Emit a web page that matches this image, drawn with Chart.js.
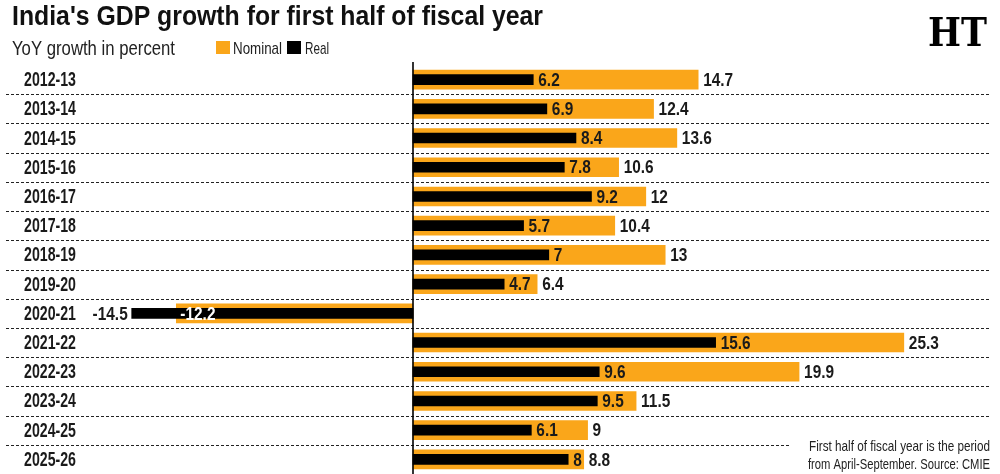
<!DOCTYPE html>
<html>
<head>
<meta charset="utf-8">
<script src="https://cdn.jsdelivr.net/npm/chart.js@4/dist/chart.umd.min.js"></script>
<style>
  html, body { margin: 0; padding: 0; background: #fff; }
  #wrap { position: relative; width: 1000px; height: 474px; }
  canvas { display: block; }
</style>
</head>
<body>
<div id="wrap"><canvas id="c" width="1000" height="474"></canvas></div>
<script>
// ---- data ----
const categories = ['2012-13','2013-14','2014-15','2015-16','2016-17','2017-18','2018-19','2019-20','2020-21','2021-22','2022-23','2023-24','2024-25','2025-26'];
const nominalValues = [14.7, 12.4, 13.6, 10.6, 12, 10.4, 13, 6.4, -12.2, 25.3, 19.9, 11.5, 9, 8.8];
const realValues = [6.2, 6.9, 8.4, 7.8, 9.2, 5.7, 7, 4.7, -14.5, 15.6, 9.6, 9.5, 6.1, 8];
const seriesNames = ['Nominal', 'Real'];
const titleText = "India's GDP growth for first half of fiscal year";
const subtitleText = 'YoY growth in percent';
const footnoteLines = ['First half of fiscal year is the period', 'from April-September. Source: CMIE'];

const ORANGE = '#FAA61A';
const BLACK = '#000000';
const INK = '#1a1a1a';
const FONT = '"Liberation Sans", Arial, sans-serif';

function drawText(ctx, s, x, y, o) {
  ctx.save();
  ctx.font = (o.weight || 'normal') + ' ' + o.size + 'px ' + (o.family || FONT);
  ctx.fillStyle = o.color || INK;
  ctx.textBaseline = o.baseline || 'alphabetic';
  ctx.textAlign = o.align || 'left';
  let sx = o.sx || 1;
  if (o.width) sx = o.width / ctx.measureText(s).width;
  ctx.translate(x, y);
  ctx.scale(sx, 1);
  ctx.fillText(s, 0, 0);
  ctx.restore();
}
function scaleFor(ctx, sample, size, weight, target) {
  ctx.save();
  ctx.font = weight + ' ' + size + 'px ' + FONT;
  const w = ctx.measureText(sample).width;
  ctx.restore();
  return target / w;
}

const decor = {
  id: 'decor',
  beforeDatasetsDraw(chart) {
    const ctx = chart.ctx;
    const y = chart.scales.y;
    ctx.save();
    ctx.strokeStyle = '#222';
    ctx.lineWidth = 1.2;
    ctx.setLineDash([3, 2]);
    for (let i = 0; i < categories.length - 1; i++) {
      const yy = Math.round((y.getPixelForValue(i) + y.getPixelForValue(i + 1)) / 2) + 0.5;
      const xEnd = (i === categories.length - 2) ? 790 : 990;
      ctx.beginPath();
      ctx.moveTo(6, yy);
      ctx.lineTo(xEnd, yy);
      ctx.stroke();
    }
    ctx.restore();
  },
  afterDatasetsDraw(chart) {
    const ctx = chart.ctx;
    const x = chart.scales.x;
    const y = chart.scales.y;
    const x0 = x.getPixelForValue(0);
    // zero line
    ctx.save();
    ctx.strokeStyle = '#000';
    ctx.lineWidth = 1.6;
    ctx.beginPath();
    ctx.moveTo(x0, 62);
    ctx.lineTo(x0, 474);
    ctx.stroke();
    ctx.restore();

    // category labels
    const catSx = scaleFor(ctx, '2012-13', 20, 'bold', 52);
    categories.forEach((c, i) => {
      drawText(ctx, c, 24, y.getPixelForValue(i) + 1, { size: 20, weight: 'bold', baseline: 'middle', sx: catSx });
    });

    // value labels
    const valSx = scaleFor(ctx, '14.7', 19, 'bold', 30);
    const fmt = v => String(v);
    categories.forEach((c, i) => {
      const yc = y.getPixelForValue(i) + 1;
      const n = nominalValues[i], r = realValues[i];
      if (n >= 0) {
        drawText(ctx, fmt(n), x.getPixelForValue(n) + 5, yc, { size: 19, weight: 'bold', baseline: 'middle', sx: valSx });
      } else {
        drawText(ctx, fmt(n), x.getPixelForValue(n) + 4, yc, { size: 19, weight: 'bold', baseline: 'middle', sx: valSx, color: '#fff' });
      }
      if (r >= 0) {
        drawText(ctx, fmt(r), x.getPixelForValue(r) + 5, yc, { size: 19, weight: 'bold', baseline: 'middle', sx: valSx });
      } else {
        drawText(ctx, fmt(r), x.getPixelForValue(r) - 4, yc, { size: 19, weight: 'bold', baseline: 'middle', sx: valSx, align: 'right' });
      }
    });
  },
  afterDraw(chart) {
    const ctx = chart.ctx;
    // title, subtitle
    drawText(ctx, titleText, 12, 25, { size: 28, weight: 'bold', width: 531, color: '#111' });
    drawText(ctx, subtitleText, 12, 55, { size: 20, width: 163, color: '#222' });
    // legend
    ctx.fillStyle = ORANGE; ctx.fillRect(216, 41, 14, 13);
    drawText(ctx, seriesNames[0], 233, 54, { size: 17, width: 49, color: '#222' });
    ctx.fillStyle = BLACK; ctx.fillRect(287, 41, 14, 13);
    drawText(ctx, seriesNames[1], 305, 54, { size: 17, width: 24, color: '#222' });
    // logo
    drawText(ctx, 'HT', 928, 46, { size: 40, weight: 'bold', family: '"DejaVu Serif", serif', width: 59, color: '#000' });
    // footnote
    ctx.fillStyle = '#fff';
    ctx.fillRect(796, 432, 204, 42);
    drawText(ctx, footnoteLines[0], 990, 451, { size: 14.5, width: 181, align: 'right', color: '#222' });
    drawText(ctx, footnoteLines[1], 990, 469, { size: 14.5, width: 182, align: 'right', color: '#222' });
  }
};

new Chart(document.getElementById('c'), {
  type: 'bar',
  data: {
    labels: categories,
    datasets: [
      { label: seriesNames[1], data: realValues, backgroundColor: BLACK, barThickness: 10, grouped: false, order: 0 },
      { label: seriesNames[0], data: nominalValues, backgroundColor: ORANGE, barThickness: 19, grouped: false, order: 1 }
    ]
  },
  options: {
    indexAxis: 'y',
    responsive: false,
    animation: false,
    devicePixelRatio: 1,
    layout: { padding: { left: 25, right: 5, top: 65, bottom: 0 } },
    scales: {
      x: { type: 'linear', min: -20, max: 30, display: false },
      y: { type: 'category', display: false, offset: true }
    },
    plugins: { legend: { display: false }, tooltip: { enabled: false }, title: { display: false } }
  },
  plugins: [decor]
});
</script>
</body>
</html>
